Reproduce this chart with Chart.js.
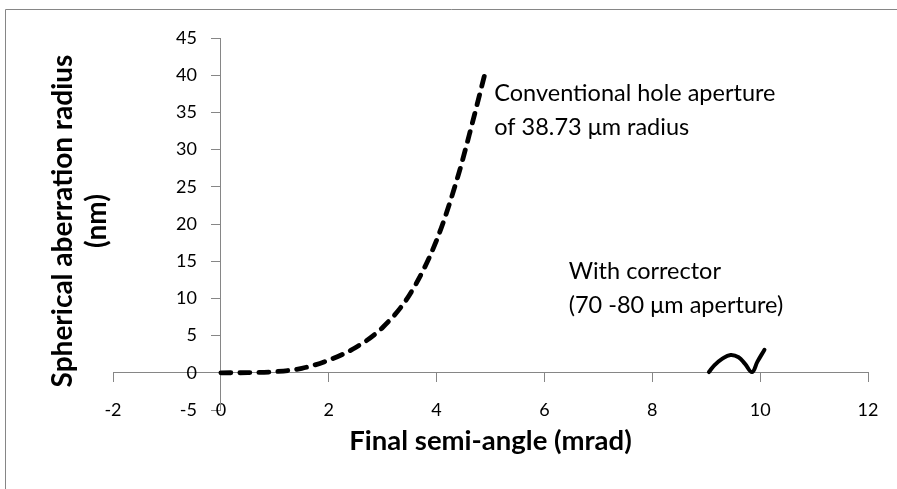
<!DOCTYPE html>
<html>
<head>
<meta charset="utf-8">
<script src="https://cdn.jsdelivr.net/npm/chart.js@4.4.1/dist/chart.umd.min.js"></script>
<style>
  html, body { margin: 0; padding: 0; background: #ffffff; }
  #wrap { width: 897px; height: 489px; position: relative; }
  canvas { display: block; }
</style>
</head>
<body>
<div id="wrap"><canvas id="c" width="897" height="489"></canvas></div>
<script>
// ---- data ----
const conventionalX = [0, 0.5, 1.0, 1.5, 2.0, 2.5, 3.0, 3.5, 4.0, 4.4, 4.65, 4.9];
const conventionalY = [0, 0.02, 0.15, 0.6, 1.7, 3.4, 6.1, 10.5, 17.8, 26.5, 33.2, 40.3];
const correctorX = [9.05, 9.15, 9.3, 9.45, 9.6, 9.72, 9.85, 9.95, 10.08];
const correctorY = [0.1, 1.0, 1.9, 2.4, 2.1, 1.2, 0.1, 1.5, 3.1];
const xTicks = [-2, 0, 2, 4, 6, 8, 10, 12];
const yTicks = [-5, 0, 5, 10, 15, 20, 25, 30, 35, 40, 45];
const xTitle = 'Final semi-angle (mrad)';
const yTitle = ['Spherical aberration radius', '(nm)'];
const noteConventional = ['Conventional hole aperture', 'of 38.73 \u03bcm radius'];
const noteCorrector = ['With corrector', '(70 -80 \u03bcm aperture)'];
const noteConventionalPos = { x: 5.07, y: [37.5, 33.0] };
const noteCorrectorPos = { x: 6.45, y: [13.6, 9.1] };

const FONT = 'Lato, "Open Sans", sans-serif';
const AXIS_GRAY = '#868686';

function pts(xs, ys) { return xs.map((x, i) => ({ x: x, y: ys[i] })); }

const decor = {
  id: 'decor',
  beforeDraw(chart) {
    const ctx = chart.ctx;
    ctx.save();
    ctx.strokeStyle = AXIS_GRAY;
    ctx.lineWidth = 1;
    ctx.beginPath();
    ctx.moveTo(5.5, 489);
    ctx.lineTo(5.5, 9.5);
    ctx.lineTo(897, 9.5);
    ctx.stroke();
    ctx.restore();
  },
  afterDraw(chart) {
    const ctx = chart.ctx;
    const xs = chart.scales.x, ys = chart.scales.y;
    const ca = chart.chartArea;
    ctx.save();
    // y tick labels next to the y axis (which sits at x = 0)
    const x0 = xs.getPixelForValue(0);
    ctx.fillStyle = '#000';
    ctx.font = '18px ' + FONT;
    ctx.textAlign = 'right';
    ctx.textBaseline = 'middle';
    ys.ticks.forEach(t => {
      ctx.fillText(String(t.value), x0 - 24, ys.getPixelForValue(t.value));
    });
    // axis titles
    ctx.font = 'bold 27.5px ' + FONT;
    ctx.textAlign = 'center';
    ctx.fillText(xTitle, (ca.left + ca.right) / 2, 441);
    const cy = (ca.top + ca.bottom) / 2 - 3;
    ctx.save();
    ctx.translate(63, cy);
    ctx.rotate(-Math.PI / 2);
    ctx.font = 'bold 28px ' + FONT;
    ctx.fillText(yTitle[0], 0, 0);
    ctx.fillText(yTitle[1], 0, 34);
    ctx.restore();
    // annotations
    ctx.font = '23.5px ' + FONT;
    ctx.textAlign = 'left';
    noteConventional.forEach((s, i) => {
      ctx.fillText(s, xs.getPixelForValue(noteConventionalPos.x), ys.getPixelForValue(noteConventionalPos.y[i]));
    });
    noteCorrector.forEach((s, i) => {
      ctx.fillText(s, xs.getPixelForValue(noteCorrectorPos.x), ys.getPixelForValue(noteCorrectorPos.y[i]));
    });
    ctx.restore();
  }
};

new Chart(document.getElementById('c'), {
  type: 'line',
  data: {
    datasets: [
      {
        label: 'Conventional',
        data: pts(conventionalX, conventionalY),
        borderColor: '#000',
        borderWidth: 4.8,
        borderDash: [10, 9],
        borderCapStyle: 'round',
        cubicInterpolationMode: 'monotone',
        pointRadius: 0,
        fill: false
      },
      {
        label: 'Corrector',
        data: pts(correctorX, correctorY),
        borderColor: '#000',
        borderWidth: 4,
        borderCapStyle: 'round',
        borderJoinStyle: 'round',
        tension: 0.4,
        pointRadius: 0,
        fill: false
      }
    ]
  },
  options: {
    responsive: false,
    animation: false,
    layout: { padding: { left: 113, right: 29, top: 38, bottom: 79 } },
    plugins: { legend: { display: false }, tooltip: { enabled: false } },
    scales: {
      x: {
        type: 'linear',
        position: { y: 0 },
        min: -2, max: 12,
        afterBuildTicks: s => { s.ticks = xTicks.map(v => ({ value: v })); },
        grid: { drawOnChartArea: false, drawTicks: true, tickLength: 9, color: AXIS_GRAY },
        border: { display: true, color: AXIS_GRAY, width: 1 },
        ticks: { color: '#000', font: { family: FONT, size: 18 }, padding: 18, maxRotation: 0, autoSkip: false }
      },
      y: {
        type: 'linear',
        position: { x: 0 },
        min: -5, max: 45,
        afterBuildTicks: s => { s.ticks = yTicks.map(v => ({ value: v })); },
        grid: { drawOnChartArea: false, drawTicks: true, tickLength: 9, color: AXIS_GRAY },
        border: { display: true, color: AXIS_GRAY, width: 1 },
        ticks: { display: false }
      }
    }
  },
  plugins: [decor]
});
</script>
</body>
</html>
